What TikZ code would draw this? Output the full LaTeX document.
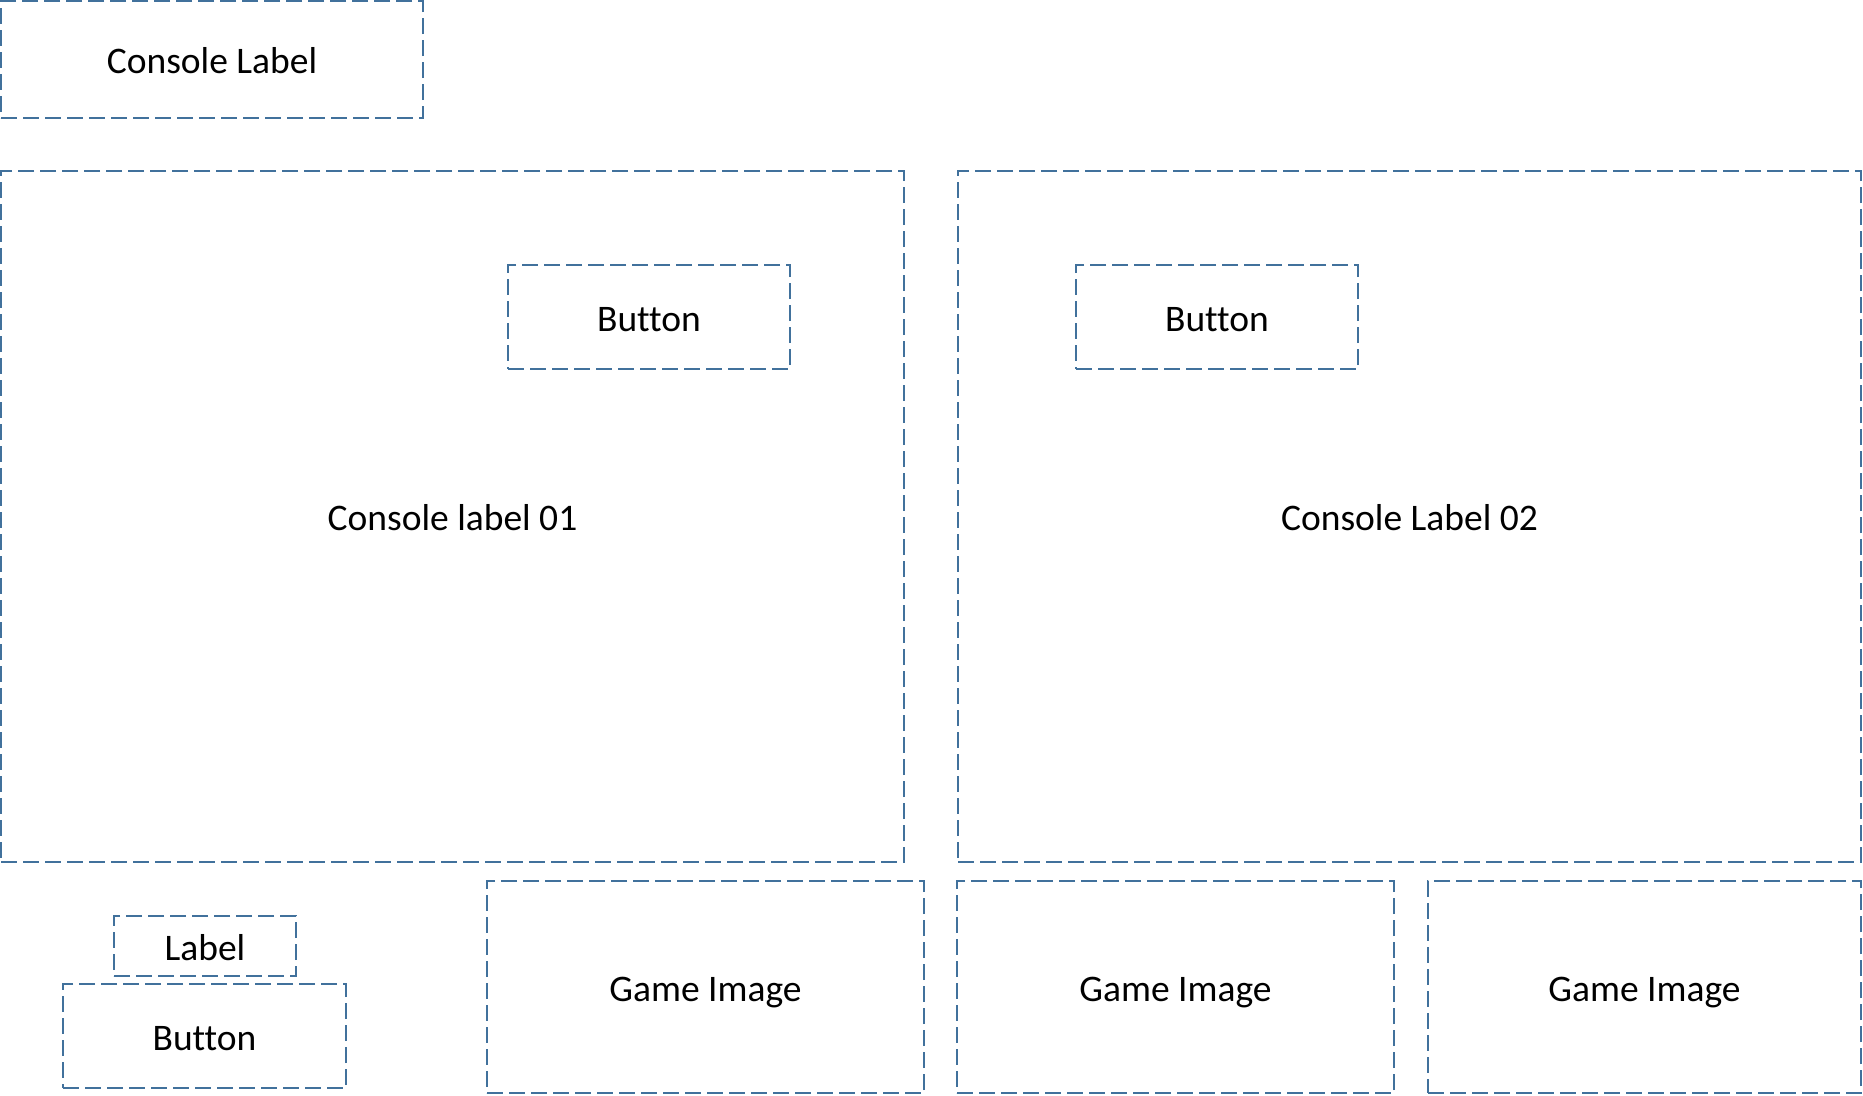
\documentclass[tikz,border=0pt]{standalone}
\usepackage{fontspec}
\setmainfont{Carlito}[Ligatures=NoCommon]
\definecolor{boxblue}{HTML}{41719C}
\begin{document}
\begin{tikzpicture}[x=1pt,y=-1pt,
  uibox/.style={draw=boxblue, line width=2.25pt, dash pattern=on 16pt off 6pt,
    rectangle, inner sep=0pt, outer sep=0pt, align=center,
    text height=35pt, text depth=7pt,
    font=\fontsize{37.5}{45}\selectfont, text=black}]
\useasboundingbox (0,0) rectangle (1863,1095);
\node[uibox, minimum width=422pt, minimum height=117pt] (cl) at (212,59.5) {Console Label};
\node[uibox, minimum width=903pt, minimum height=691pt] (c1) at (452.5,516.5) {Console label 01};
\node[uibox, minimum width=903pt, minimum height=691pt] (c2) at (1409.5,516.5) {Console Label 02};
\node[uibox, minimum width=282pt, minimum height=104pt] (b1) at (649,317) {Button};
\node[uibox, minimum width=282pt, minimum height=104pt] (b2) at (1217,317) {Button};
\node[uibox, minimum width=182pt, minimum height=60pt] (lb) at (205,946) {Label};
\node[uibox, minimum width=283pt, minimum height=104pt] (b3) at (204.5,1036) {Button};
\node[uibox, minimum width=437pt, minimum height=212pt] (g1) at (705.5,987) {Game Image};
\node[uibox, minimum width=437pt, minimum height=212pt] (g2) at (1175.5,987) {Game Image};
\node[uibox, minimum width=433pt, minimum height=212pt] (g3) at (1644.5,987) {Game Image};
\end{tikzpicture}
\end{document}
